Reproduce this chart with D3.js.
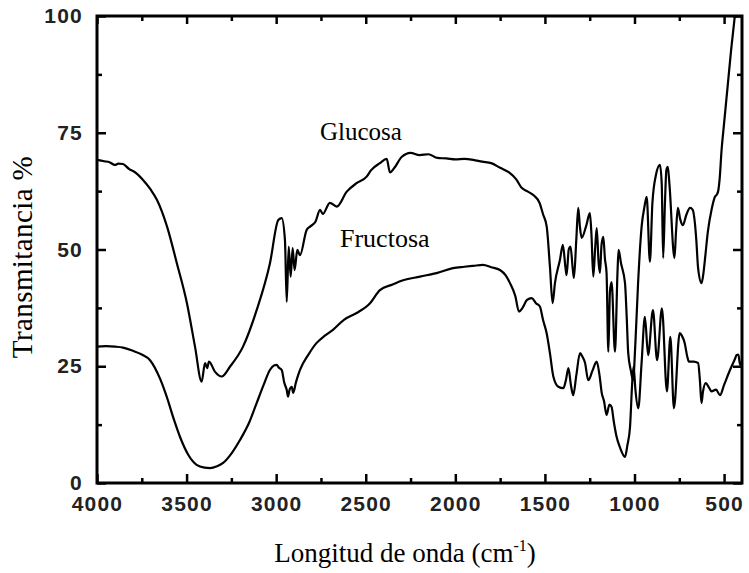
<!DOCTYPE html>
<html>
<head>
<meta charset="utf-8">
<script src="https://cdn.jsdelivr.net/npm/d3@7"></script>
<style>
  body { margin: 0; background: #fff; }
  svg { display: block; }
</style>
</head>
<body>
<svg id="svg" width="749" height="573"></svg>
<script>
// wavenumber (cm-1) and transmittance (%)
var glucosaWn = [4000,3960,3930,3900,3880,3855,3820,3790,3743,3700,3665,3609,3554,3498,3453,3416,
  3397,3385,3375,3341,3304,3258,3185,3109,3035,2988,2969,2951,2941,2930,2919,2908,2897,2882,2867,
  2830,2811,2780,2755,2740,2700,2662,2606,2551,2495,2470,2421,2383,2365,2340,2300,2250,2200,2150,
  2100,2050,2000,1950,1900,1850,1800,1750,1700,1660,1630,1600,1560,1530,1510,1490,1472,1457,1444,
  1416,1400,1385,1379,1367,1357,1345,1338,1325,1314,1305,1295,1270,1249,1240,1230,1220,1211,1200,
  1193,1184,1174,1165,1156,1146,1137,1128,1109,1095,1089,1075,1053,1044,1035,1020,1008,995,980,
  960,945,932,914,900,880,858,848,840,830,822,814,805,777,768,758,745,730,710,690,675,663,655,645,
  626,615,607,590,570,551,540,532,525,514,500,480,460,440,420];
var glucosaT = [69.2,68.9,68.7,68.1,68.4,68.3,67.2,66.6,64.9,62.8,60.6,54.9,47.0,38.5,29.2,21.7,
  25.7,24.6,26.0,23.8,22.8,24.9,29.2,37.0,47.0,56.3,56.7,52.0,38.8,50.6,44.2,50.3,45.6,49.9,48.8,
  54.2,54.9,56.0,58.5,57.6,60.0,59.2,62.4,64.2,65.6,67.0,68.5,69.4,66.5,67.5,69.8,70.7,70.2,70.4,
  69.6,69.5,69.3,69.4,69.2,68.8,68.5,67.5,66.5,65.0,63.2,62.5,61.5,60.0,57.5,54.9,46.3,38.5,42.8,
  47.8,51.0,46.0,44.5,50.0,50.6,46.0,43.9,52.0,58.9,55.0,52.5,55.0,57.8,53.0,44.2,50.0,54.6,47.0,
  45.0,51.0,52.7,48.0,45.0,28.1,41.0,43.0,28.1,45.0,49.9,47.0,42.8,36.0,27.8,24.0,22.0,30.0,42.8,
  55.0,59.0,61.3,47.4,60.0,66.0,68.1,64.0,48.2,60.0,67.0,67.7,64.0,48.2,54.0,58.9,56.5,55.2,57.5,
  58.9,58.5,55.7,52.0,46.0,42.8,45.0,47.8,54.0,58.5,61.3,61.8,62.7,65.0,71.3,77.0,85.0,93.0,100.0,108.0];

var fructosaWn = [4000,3950,3900,3855,3800,3750,3704,3650,3611,3570,3537,3490,3444,3400,3369,3330,
  3296,3250,3202,3150,3109,3070,3035,3010,2997,2985,2969,2955,2941,2934,2925,2913,2905,2890,2867,
  2820,2774,2730,2683,2620,2551,2476,2421,2350,2300,2197,2100,2013,1950,1900,1846,1800,1751,1720,
  1695,1665,1645,1625,1600,1574,1550,1528,1511,1490,1472,1453,1425,1397,1383,1369,1355,1342,1325,
  1304,1290,1276,1258,1235,1211,1195,1183,1170,1156,1140,1128,1115,1100,1080,1053,1040,1025,1012,
  1005,995,979,960,942,924,897,874,847,819,800,780,748,735,720,705,696,670,645,635,626,618,602,585,
  570,545,523,500,467,440,430,420,411,405];
var fructosaT = [29.2,29.3,29.2,29.0,28.3,27.5,26.3,22.5,18.5,13.5,9.9,6.0,3.9,3.3,3.2,3.6,
  4.3,6.3,9.2,13.0,17.1,21.0,24.2,25.2,25.3,24.7,24.2,21.5,19.9,18.5,20.0,20.6,19.3,21.5,24.2,
  27.5,30.0,31.5,32.8,35.0,36.4,38.5,41.3,42.5,43.3,44.2,45.0,46.0,46.3,46.5,46.7,46.2,45.6,44.5,
  42.8,40.0,36.7,37.5,39.2,39.6,38.5,37.8,35.0,32.0,27.8,22.8,20.6,20.3,22.0,24.6,21.0,18.8,23.0,
  27.8,27.0,25.7,22.0,24.0,26.0,23.0,19.3,17.5,14.6,16.8,16.3,13.0,9.9,7.5,5.6,8.0,12.0,22.0,
  24.9,20.0,16.0,26.0,35.6,27.4,37.0,26.3,37.4,19.6,31.3,16.0,32.1,31.5,30.0,27.0,26.0,26.0,25.7,22.0,17.1,19.5,21.4,20.5,
  19.6,20.0,18.8,21.0,24.2,26.5,27.4,27.5,25.3,26.0];

var xMajor = [4000,3500,3000,2500,2000,1500,1000,500];
var xMinor = [3750,3250,2750,2250,1750,1250,750];
var yMajor = [0,25,50,75,100];
var yMinor = [12.5,37.5,62.5,87.5];

var svg = d3.select('#svg');
var padding = {top:16, right:7, bottom:90, left:97};
var w = 749 - padding.left - padding.right;
var h = 573 - padding.top - padding.bottom;

var xScale = d3.scaleLinear().domain([4000,400]).range([0,w]);
var yScale = d3.scaleLinear().domain([0,100]).range([h,0]);

var g = svg.append('g').attr('transform','translate('+padding.left+','+padding.top+')');

g.append('clipPath').attr('id','clip')
  .append('rect').attr('width',w).attr('height',h);

var line = d3.line()
  .curve(d3.curveMonotoneX)
  .x(function(d){ return xScale(d[0]); })
  .y(function(d){ return yScale(d[1]); });

[[glucosaWn,glucosaT],[fructosaWn,fructosaT]].forEach(function(s){
  g.append('path')
    .datum(s[0].map(function(v,i){ return [v, s[1][i]]; }))
    .attr('d',line)
    .attr('clip-path','url(#clip)')
    .attr('fill','none')
    .attr('stroke','#000')
    .attr('stroke-width',2.2)
    .attr('stroke-linejoin','round');
});

function styleAxis(sel){
  sel.select('.domain').remove();
  sel.selectAll('line').attr('stroke','#000').attr('stroke-width',2.5);
  sel.selectAll('text')
    .attr('font-family','"Liberation Sans", Arial, sans-serif')
    .attr('font-weight','bold')
    .attr('font-size','21px')
    .attr('letter-spacing','1.2px')
    .attr('fill','#222');
}

// bottom
g.append('g').attr('transform','translate(0,'+h+')')
  .call(d3.axisBottom(xScale).tickValues(xMajor).tickSize(-9).tickPadding(13).tickFormat(d3.format('d')))
  .call(styleAxis);
g.append('g').attr('transform','translate(0,'+h+')')
  .call(d3.axisBottom(xScale).tickValues(xMinor).tickSize(-5).tickFormat(''))
  .call(styleAxis);
// top
g.append('g')
  .call(d3.axisTop(xScale).tickValues(xMajor).tickSize(-8).tickFormat(''))
  .call(styleAxis);
g.append('g')
  .call(d3.axisTop(xScale).tickValues(xMinor).tickSize(-5).tickFormat(''))
  .call(styleAxis);
// left
g.append('g')
  .call(d3.axisLeft(yScale).tickValues(yMajor).tickSize(-9).tickPadding(14))
  .call(styleAxis);
g.append('g')
  .call(d3.axisLeft(yScale).tickValues(yMinor).tickSize(-5).tickFormat(''))
  .call(styleAxis);
// right
g.append('g').attr('transform','translate('+w+',0)')
  .call(d3.axisRight(yScale).tickValues(yMajor).tickSize(-9).tickFormat(''))
  .call(styleAxis);
g.append('g').attr('transform','translate('+w+',0)')
  .call(d3.axisRight(yScale).tickValues(yMinor).tickSize(-5).tickFormat(''))
  .call(styleAxis);

g.append('rect')
  .attr('width',w).attr('height',h)
  .attr('fill','none').attr('stroke','#000').attr('stroke-width',3);

// labels
var serif = '"Liberation Serif", "Times New Roman", serif';
g.append('text').attr('x',320-padding.left).attr('y',140-padding.top)
  .attr('font-family',serif).attr('font-size','25px').text('Glucosa');
g.append('text').attr('x',340-padding.left).attr('y',247-padding.top)
  .attr('font-family',serif).attr('font-size','26px').text('Fructosa');

var xl = svg.append('text').attr('x',405).attr('y',562)
  .attr('text-anchor','middle')
  .attr('font-family',serif).attr('font-size','27px');
xl.append('tspan').text('Longitud de onda (cm');
xl.append('tspan').attr('dy',-11).attr('font-size','16px').text('-1');
xl.append('tspan').attr('dy',11).text(')');

svg.append('text')
  .attr('transform','translate(32,257) rotate(-90)')
  .attr('text-anchor','middle')
  .attr('font-family',serif).attr('font-size','29px')
  .attr('letter-spacing','0.4px')
  .text('Transmitancia %');
</script>
</body>
</html>
